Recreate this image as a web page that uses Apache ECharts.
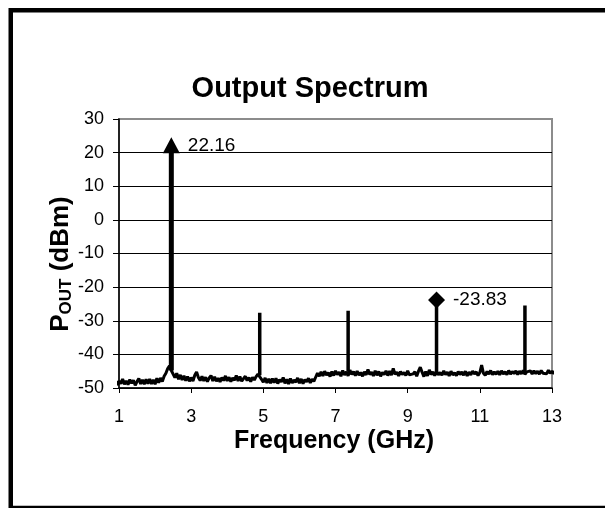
<!DOCTYPE html>
<html>
<head>
<meta charset="utf-8">
<script src="https://cdn.jsdelivr.net/npm/echarts@6/dist/echarts.min.js"></script>
<style>
html,body{margin:0;padding:0;background:#fff;}
#c{width:605px;height:508px;}
</style>
</head>
<body>
<div id="c"></div>
<script>
// ---- data ----
const freqStart = 0.8;      // GHz, first sample of the noise trace
const freqStep = 0.05;      // GHz between samples
const noiseDbm = [
  -47.6,-48.9,-47.8,-49.1,-48.0,-48.7,-47.3,-48.9,-47.9,-49.0,-47.5,-48.6,-47.7,-49.2,-48.1,-47.2,-48.8,-47.6,-48.9,-47.4,
  -48.7,-47.3,-48.8,-47.6,-48.9,-47.1,-48.4,-47.0,-48.1,-46.5,
  -45.6,-44.2,-43.4,-44.8,-45.2,-46.9,-45.6,-47.4,-46.1,-47.6,
  -46.4,-47.8,-46.6,-48.0,-46.9,-47.9,-46.2,-45.2,-46.9,-47.8,-46.5,-47.9,-46.8,-48.1,-47.0,-46.3,-47.9,-46.7,-48.0,-47.1,
  -48.2,-46.9,-47.8,-46.4,-47.9,-46.8,-48.1,-47.0,-47.7,-46.3,-47.9,-46.6,-48.0,-47.2,-46.5,-47.8,-46.9,-48.1,-46.8,-47.6,
  -46.6,-45.9,-46.2,-47.4,-48.3,-47.0,-48.5,-47.3,-48.6,-47.2,-48.4,-47.1,-48.7,-47.5,-48.2,-46.9,-48.6,-47.4,-48.8,-47.2,
  -48.5,-47.6,-48.3,-47.0,-48.6,-47.3,-48.7,-47.5,-48.2,-47.1,-48.5,-47.4,-48.0,
  -46.8,-45.6,-46.5,-45.2,-46.4,-45.0,-46.2,-45.4,-46.6,-45.1,-46.3,-44.9,-46.0,-45.3,-46.5,-44.8,-46.1,-45.2,-46.4,-44.7,
  -46.0,-45.1,-46.3,-45.0,-46.2,-45.4,-46.5,-45.2,-46.1,-44.5,-46.0,-45.3,-46.4,-44.9,-46.2,-45.1,-46.5,-45.4,-46.0,-44.9,
  -46.3,-45.0,-46.2,-44.2,-45.9,-45.3,-46.4,-45.1,-46.0,-45.4,-46.3,-44.9,-46.1,-45.6,-45.8,-45.2,-46.5,-45.0,-43.8,-45.3,
  -46.6,-45.1,-46.4,-44.6,-46.0,-45.2,-46.3,-45.0,-46.1,-45.4,-46.2,-44.9,-46.0,-45.3,-46.4,-45.0,-46.1,-45.5,-46.3,-45.1,
  -46.0,-45.2,-46.2,-45.0,-46.4,-45.3,-46.1,-45.0,-45.8,-45.2,-46.3,-45.4,-43.2,-45.6,-46.2,-45.1,-45.9,-44.8,-46.0,-45.2,
  -45.9,-45.0,-46.1,-44.9,-45.8,-45.2,-46.0,-44.8,-45.9,-45.1,-45.7,-44.9,-46.0,-45.0,-45.8,-44.8,-45.9,-45.2,-45.6,-44.9,
  -45.8,-44.9,-45.7,-45.0,-45.9,-44.8,-45.6,-45.1,-45.8,-44.7,-45.6,-45.0,-45.7,-44.9,-45.5,-45.1,-45.6
];
const spikeFreq = [2.45, 4.9, 7.35, 9.8, 12.25];
const spikeBase = [-44.8, -46.2, -45.2, -45.0, -45.9];
const spikePeak = [22.16, -27.6, -27.0, -23.83, -25.5];
const markerFreq = [2.45, 9.8];
const markerDbm = [22.16, -23.83];
const markerText = ['22.16', '-23.83'];
const markerShape = ['triangle', 'diamond'];
const xTickValues = [1, 3, 5, 7, 9, 11, 13];

// ---- build ----
const FONT = "'Liberation Sans', Arial, sans-serif";
const noiseData = noiseDbm.map((v, i) => [+(freqStart + i * freqStep).toFixed(2), v]);
const fundData = [[spikeFreq[0], spikeBase[0]], [spikeFreq[0], spikePeak[0]]];
const harmData = [];
for (let i = 1; i < spikeFreq.length; i++) {
  harmData.push([spikeFreq[i], spikeBase[i]], [spikeFreq[i], spikePeak[i]], [spikeFreq[i], '-']);
}
const markerData = markerFreq.map((f, i) => ({
  value: [f, markerDbm[i]],
  symbol: markerShape[i],
  symbolSize: markerShape[i] === 'triangle' ? [17, 16] : [17, 17],
  label: { formatter: markerText[i] }
}));

const chart = echarts.init(document.getElementById('c'), null, { renderer: 'canvas' });
chart.setOption({
  animation: false,
  backgroundColor: '#fff',
  textStyle: { fontFamily: FONT },
  grid: {
    left: 119, top: 119, right: 53, bottom: 120,
    show: true, backgroundColor: '#fff', borderColor: '#8c8c8c', borderWidth: 2
  },
  xAxis: {
    type: 'value', min: 1, max: 13,
    axisLine: { show: true, onZero: false, lineStyle: { color: '#000', width: 1.5 } },
    axisTick: { show: true, length: 5, customValues: xTickValues, lineStyle: { color: '#000' } },
    axisLabel: { customValues: xTickValues, color: '#000', fontSize: 18, margin: 20, fontFamily: FONT },
    splitLine: { show: false }
  },
  yAxis: {
    type: 'value', min: -50, max: 30, interval: 10,
    axisLine: { show: true, lineStyle: { color: '#000', width: 1.5 } },
    axisTick: { show: true, length: 6, lineStyle: { color: '#000' } },
    axisLabel: { color: '#000', fontSize: 18, margin: 15, fontFamily: FONT },
    splitLine: { show: true, lineStyle: { color: ['#000','#000','#000','#000','#000','#000','#000','#000','#8c8c8c'], width: 1 } }
  },
  series: [
    {
      type: 'line', data: noiseData, showSymbol: false, clip: false,
      lineStyle: { color: '#000', width: 3 }, z: 3
    },
    {
      type: 'line', data: fundData, showSymbol: false, clip: false,
      lineStyle: { color: '#000', width: 5 }, z: 4
    },
    {
      type: 'line', data: harmData, showSymbol: false, clip: false, connectNulls: false,
      lineStyle: { color: '#000', width: 3.5 }, z: 4
    },
    {
      type: 'scatter', data: markerData, z: 5,
      itemStyle: { color: '#000', opacity: 1 },
      label: { show: true, position: 'right', distance: 8, color: '#000', fontSize: 19, fontFamily: FONT }
    }
  ],
  graphic: [
    {
      type: 'rect', z: 100, silent: true,
      shape: { x: 10.75, y: 10.25, width: 600, height: 497.75 },
      style: { fill: 'none', stroke: '#000', lineWidth: 4.5 }
    },
    {
      type: 'text', x: 310, y: 89, z: 100,
      style: { text: 'Output Spectrum', align: 'center', verticalAlign: 'middle',
               fontSize: 29, fontWeight: 'bold', fontFamily: FONT, fill: '#000' }
    },
    {
      type: 'text', x: 334, y: 441, z: 100,
      style: { text: 'Frequency (GHz)', align: 'center', verticalAlign: 'middle',
               fontSize: 25, fontWeight: 'bold', fontFamily: FONT, fill: '#000' }
    },
    {
      type: 'text', x: 61, y: 264, rotation: Math.PI / 2, z: 100,
      style: {
        text: '{a|P}{b|OUT}{a| (dBm)}', align: 'center', verticalAlign: 'middle', fill: '#000',
        rich: {
          a: { fontSize: 26, fontWeight: 'bold', fontFamily: FONT, fill: '#000', lineHeight: 30 },
          b: { fontSize: 17, fontWeight: 'bold', fontFamily: FONT, fill: '#000', lineHeight: 30, padding: [10, 0, 0, 0] }
        }
      }
    }
  ]
});
</script>
</body>
</html>
